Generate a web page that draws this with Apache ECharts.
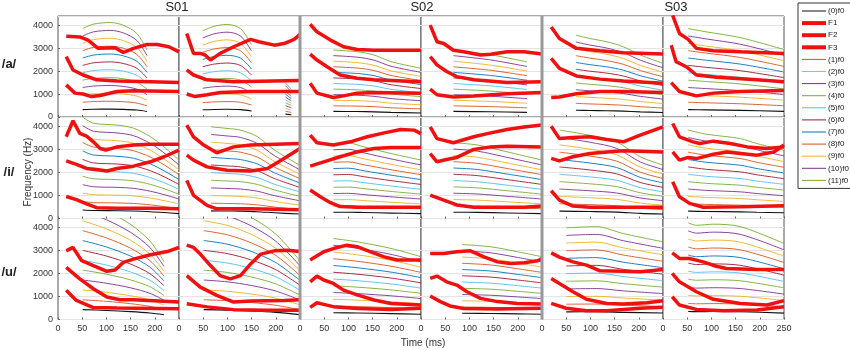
<!DOCTYPE html>
<html>
<head>
<meta charset="utf-8">
<script src="https://cdn.jsdelivr.net/npm/echarts@6/dist/echarts.min.js"></script>
<style>
  html, body { margin: 0; padding: 0; background: #fff; }
  #chart { width: 850px; height: 350px; }
</style>
</head>
<body>
<div id="chart"></div>
<script>
// panel order: row-major, rows = vowels, columns = subjects x 2 tokens
const subjects = ['S01', 'S02', 'S03']
const vowels = ['/a/', '/i/', '/u/']
const xTicks = [0, 50, 100, 150, 200, 250]
const yTicks = [0, 1000, 2000, 3000, 4000]
const harmonicNames = ['(0)f0', '(1)f0', '(2)f0', '(3)f0', '(4)f0', '(5)f0', '(6)f0', '(7)f0', '(8)f0', '(9)f0', '(10)f0', '(11)f0']
const harmonicOrders = [1, 2, 3, 4, 5, 6, 7, 8, 9, 10, 11, 12]

const F1Tracks = [
  [[17,1400],[35,1040],[52,1000],[69,890],[87,940],[122,1110],[156,1140],[250,1110]],
  [[16,1000],[33,890],[58,970],[85,1070],[148,1110],[250,1110]],
  [[21,1470],[35,1040],[69,850],[90,920],[118,1040],[153,1070],[250,1040]],
  [[19,1210],[33,970],[67,870],[109,920],[178,1010],[250,1070]],
  [[19,850],[36,870],[71,1010],[120,1110],[168,1110],[250,1070]],
  [[17,1500],[34,1110],[69,920],[104,1040],[160,1110],[250,1150]],
  [[17,960],[38,820],[59,640],[80,470],[122,450],[191,450],[250,420]],
  [[16,1660],[30,1010],[58,570],[78,420],[148,420],[250,380]],
  [[21,1240],[42,950],[63,690],[83,520],[118,490],[250,490]],
  [[19,1020],[47,800],[74,590],[109,490],[213,490],[250,540]],
  [[19,1210],[36,800],[64,540],[99,490],[250,490]],
  [[20,1600],[34,950],[55,660],[83,490],[160,510],[250,560]],
  [[17,1270],[38,830],[73,520],[122,500],[250,470]],
  [[16,690],[58,550],[113,430],[183,400],[250,400]],
  [[21,530],[35,730],[49,660],[69,560],[118,480],[188,440],[250,490]],
  [[19,1020],[40,780],[60,590],[88,480],[158,460],[250,490]],
  [[19,700],[50,490],[92,380],[134,380],[203,490],[250,530]],
  [[19,990],[34,630],[69,440],[125,380],[194,410],[250,560]]
]

const F2Tracks = [
  [[17,2630],[31,2050],[52,1830],[80,1620],[122,1570],[191,1540],[250,1500]],
  [[16,2050],[30,1830],[58,1620],[113,1540],[250,1590]],
  [[21,2740],[35,2480],[56,2190],[83,1830],[118,1690],[153,1620],[250,1540]],
  [[19,2630],[33,2270],[53,1980],[74,1760],[109,1620],[178,1500],[250,1540]],
  [[19,2550],[36,2120],[71,1790],[120,1650],[168,1570],[250,1470]],
  [[17,3130],[27,2410],[48,2190],[69,1830],[111,1730],[194,1620],[250,1540]],
  [[17,2510],[38,2360],[59,2180],[80,2130],[101,2070],[122,2180],[156,2280],[191,2470],[219,2690],[250,2980]],
  [[16,2760],[30,2540],[58,2250],[99,2100],[148,2070],[183,2180],[217,2610],[250,3050]],
  [[21,2280],[49,2470],[83,2690],[118,2900],[153,3050],[188,3090],[250,3090]],
  [[19,2830],[33,2470],[53,2570],[74,2660],[109,3010],[144,3120],[178,3150],[250,3120]],
  [[19,2620],[36,2510],[64,2690],[99,2830],[134,2900],[168,2950],[250,2900]],
  [[20,2900],[34,2540],[52,2660],[69,2610],[104,2800],[132,2900],[160,2830],[194,2760],[229,2900],[250,3200]],
  [[17,2270],[45,1770],[73,1340],[101,980],[128,860],[156,860],[250,760]],
  [[16,1910],[44,1410],[78,1050],[113,760],[148,810],[217,830],[250,860]],
  [[21,1640],[35,1890],[49,1720],[69,1570],[90,1280],[118,1070],[153,850],[188,700],[250,630]],
  [[19,1790],[33,1890],[53,1640],[74,1500],[95,1210],[123,920],[158,780],[199,700],[250,670]],
  [[19,1790],[36,1570],[64,1210],[92,880],[134,700],[168,670],[217,730],[250,820]],
  [[19,2010],[34,1640],[69,1210],[104,880],[160,700],[215,630],[250,820]]
]

const F3Tracks = [
  [[17,3520],[45,3490],[62,3350],[83,2990],[118,3020],[135,2810],[156,2990],[184,3160],[205,3160],[229,3060],[250,2840]],
  [[16,3640],[30,2770],[44,2770],[54,2700],[65,2480],[85,2770],[113,3060],[148,3380],[165,3280],[197,3130],[217,3200],[238,3380],[250,3600]],
  [[21,4040],[35,3710],[63,3350],[90,3060],[118,2940],[153,2910],[250,2910]],
  [[19,4000],[33,3280],[47,3200],[67,2910],[88,2840],[123,2700],[144,2730],[178,2840],[213,2840],[250,2740]],
  [[19,3920],[36,3420],[71,2990],[120,2890],[168,2800],[250,2740]],
  [[20,4430],[34,3640],[52,3380],[69,2990],[104,2890],[160,2840],[250,2770]],
  [[17,3560],[31,4260],[45,3710],[59,3590],[73,3340],[87,3050],[99,2980],[122,3120],[156,3200],[191,3230],[250,3230]],
  [[16,4070],[30,3560],[51,3200],[78,2860],[113,3120],[148,3200],[250,3270]],
  [[21,3630],[35,3300],[69,3200],[104,3340],[139,3560],[174,3730],[208,3880],[236,3850],[250,3700]],
  [[19,3990],[33,3480],[67,3300],[109,3560],[144,3730],[178,3880],[213,3990],[250,4070]],
  [[19,4020],[36,3480],[64,3530],[99,3560],[134,3440],[168,3340],[203,3630],[250,3990]],
  [[20,4140],[34,3560],[62,3340],[76,3270],[104,3370],[139,3270],[174,3120],[215,3050],[250,3120]],
  [[17,2990],[31,3140],[49,2560],[73,2350],[101,2100],[118,2160],[135,2490],[156,2630],[191,2820],[226,2960],[250,3140]],
  [[16,3240],[30,3140],[44,2850],[65,2350],[85,1910],[106,1770],[127,1910],[148,2420],[169,2850],[197,2990],[224,3020],[250,2960]],
  [[21,2590],[49,2950],[69,3090],[97,3240],[118,3170],[146,2950],[174,2730],[201,2590],[250,2590]],
  [[19,2880],[47,2880],[74,2950],[102,2990],[130,2730],[158,2510],[185,2440],[213,2470],[241,2560],[250,2660]],
  [[19,2900],[36,2720],[64,2510],[92,2370],[120,2120],[168,2100],[203,2080],[250,2180]],
  [[19,2900],[34,2660],[55,2660],[83,2510],[110,2320],[131,2220],[194,2180],[250,2180]]
]

// fundamental frequency per panel; harmonic lines are these values times the order
const f0Tracks = [
  [[51,321],[73,337],[108,343],[135,333],[163,303],[184,243]],
  [[49,313],[72,329],[99,336],[127,321],[150,261],[185,null],[220,124],[232,100]],
  [[69,243],[118,237],[153,225],[188,201],[250,177]],
  [[67,243],[144,226],[219,200]],
  [[70,297],[99,285],[134,273],[168,255],[203,225],[250,195]],
  [[52,321],[90,309],[160,288],[250,245]],
  [[51,368],[73,346],[122,339],[156,328],[191,297],[219,260],[250,212]],
  [[66,333],[99,327],[127,321],[162,297],[197,249],[250,193]],
  [[69,272],[100,274],[132,260],[188,236],[250,212]],
  [[67,275],[116,267],[178,242],[250,212]],
  [[36,321],[99,302],[154,278],[203,224],[250,194]],
  [[52,321],[90,306],[160,290],[194,272],[250,248]],
  [[51,430],[100,395],[150,345],[190,285],[219,210]],
  [[51,430],[100,410],[150,370],[200,310],[250,213]],
  [[69,294],[118,282],[188,258],[250,228]],
  [[85,272],[144,264],[199,246],[250,228]],
  [[50,333],[113,337],[168,312],[250,282]],
  [[52,351],[69,342],[104,346],[160,337],[250,276]]
]

const harmonicColors = ['#111111', '#D95319', '#EDB120', '#7E2F8E', '#77AC30', '#4DBEEE', '#A2142F', '#0072BD', '#D95319', '#EDB120', '#7E2F8E', '#77AC30']
const colLeft = [58, 179, 300, 421, 542, 663]
const rowTop = [16, 117.5, 218.5]
const panelW = 121
const panelH = 101
const font = 'Liberation Sans, Arial, sans-serif'

const chart = echarts.init(document.getElementById('chart'), null, { renderer: 'canvas' })

const grids = [], xAxes = [], yAxes = [], series = []
vowels.forEach((v, r) => {
  colLeft.forEach((left, c) => {
    const i = r * 6 + c
    grids.push({ left, top: rowTop[r], width: panelW, height: panelH, show: true, borderColor: '#555', borderWidth: 1, backgroundColor: '#fff' })
    xAxes.push({
      type: 'value', gridIndex: i, min: 0, max: 250, interval: 50,
      axisLine: { show: false },
      axisTick: { show: true, inside: true, length: 2, lineStyle: { color: '#666' } },
      axisLabel: { show: r === 2, showMaxLabel: c === 5, fontSize: 9, color: '#333', margin: 5, fontFamily: font, formatter: val => String(val) },
      splitLine: { show: false }
    })
    yAxes.push({
      type: 'value', gridIndex: i, min: 0, max: 4400, interval: 1000,
      axisLine: { show: false },
      axisTick: { show: c === 0, inside: true, length: 2, lineStyle: { color: '#666' } },
      axisLabel: { show: c === 0, showMaxLabel: false, fontSize: 9, color: '#333', margin: 5, fontFamily: font, formatter: val => String(val) },
      splitLine: { show: true, lineStyle: { color: '#e4e4e4', width: 1 } }
    })
    harmonicOrders.forEach((k, h) => {
      series.push({
        type: 'line', name: harmonicNames[h], xAxisIndex: i, yAxisIndex: i,
        data: f0Tracks[i].map(([t, f]) => [t, f == null ? null : f * k]),
        symbol: 'none', smooth: 0.3, silent: true, z: 2,
        lineStyle: { color: harmonicColors[h], width: h === 0 ? 1.1 : 0.9 },
        itemStyle: { color: harmonicColors[h] }
      })
    })
    ;[['F1', F1Tracks], ['F2', F2Tracks], ['F3', F3Tracks]].forEach(([name, tracks]) => {
      series.push({
        type: 'line', name, xAxisIndex: i, yAxisIndex: i, data: tracks[i],
        symbol: 'none', silent: true, z: 3,
        lineStyle: { color: '#f01010', width: 3.5 },
        itemStyle: { color: '#f01010' }
      })
    })
  })
})

const legendNames = ['(0)f0', 'F1', 'F2', 'F3'].concat(harmonicNames.slice(1))
const legendData = legendNames.map(n => ({
  name: n,
  itemStyle: { opacity: 0 },
  lineStyle: { width: n[0] === 'F' ? 4 : 1 }
}))

const texts = []
const titleX = [177, 422, 676]
subjects.forEach((s, j) => texts.push({ type: 'text', x: titleX[j], y: 7, style: { text: s, textAlign: 'center', textVerticalAlign: 'middle', fontSize: 13, fill: '#222', fontFamily: font } }))
const rowLabelY = [64, 172, 272]
vowels.forEach((v, r) => texts.push({ type: 'text', x: 9, y: rowLabelY[r], style: { text: v, textAlign: 'center', textVerticalAlign: 'middle', fontSize: 13, fontWeight: 'bold', fill: '#222', fontFamily: font } }))
texts.push({ type: 'text', x: 28, y: 172, rotation: Math.PI / 2, style: { text: 'Frequency (Hz)', textAlign: 'center', textVerticalAlign: 'middle', fontSize: 10, fill: '#333', fontFamily: font } })
texts.push({ type: 'text', x: 423, y: 343, style: { text: 'Time (ms)', textAlign: 'center', textVerticalAlign: 'middle', fontSize: 10, fill: '#333', fontFamily: font } })
// thicker separators between subjects
texts.push({ type: 'rect', shape: { x: 298.5, y: 16, width: 3, height: 303.5 }, style: { fill: '#999' }, z: 10 })
texts.push({ type: 'rect', shape: { x: 540.5, y: 16, width: 3, height: 303.5 }, style: { fill: '#999' }, z: 10 })

chart.setOption({
  animation: false,
  backgroundColor: '#fff',
  grid: grids,
  xAxis: xAxes,
  yAxis: yAxes,
  series,
  legend: {
    data: legendData, orient: 'vertical', left: 798, top: 3,
    itemWidth: 24, itemHeight: 8, itemGap: 4.1,
    padding: [4, 3, 4, 2],
    borderColor: '#333', borderWidth: 1, backgroundColor: '#fff',
    selectedMode: false,
    textStyle: { fontSize: 8, color: '#222', fontFamily: font, padding: [0, 0, 0, -3] }
  },
  graphic: texts
})
</script>
</body>
</html>
